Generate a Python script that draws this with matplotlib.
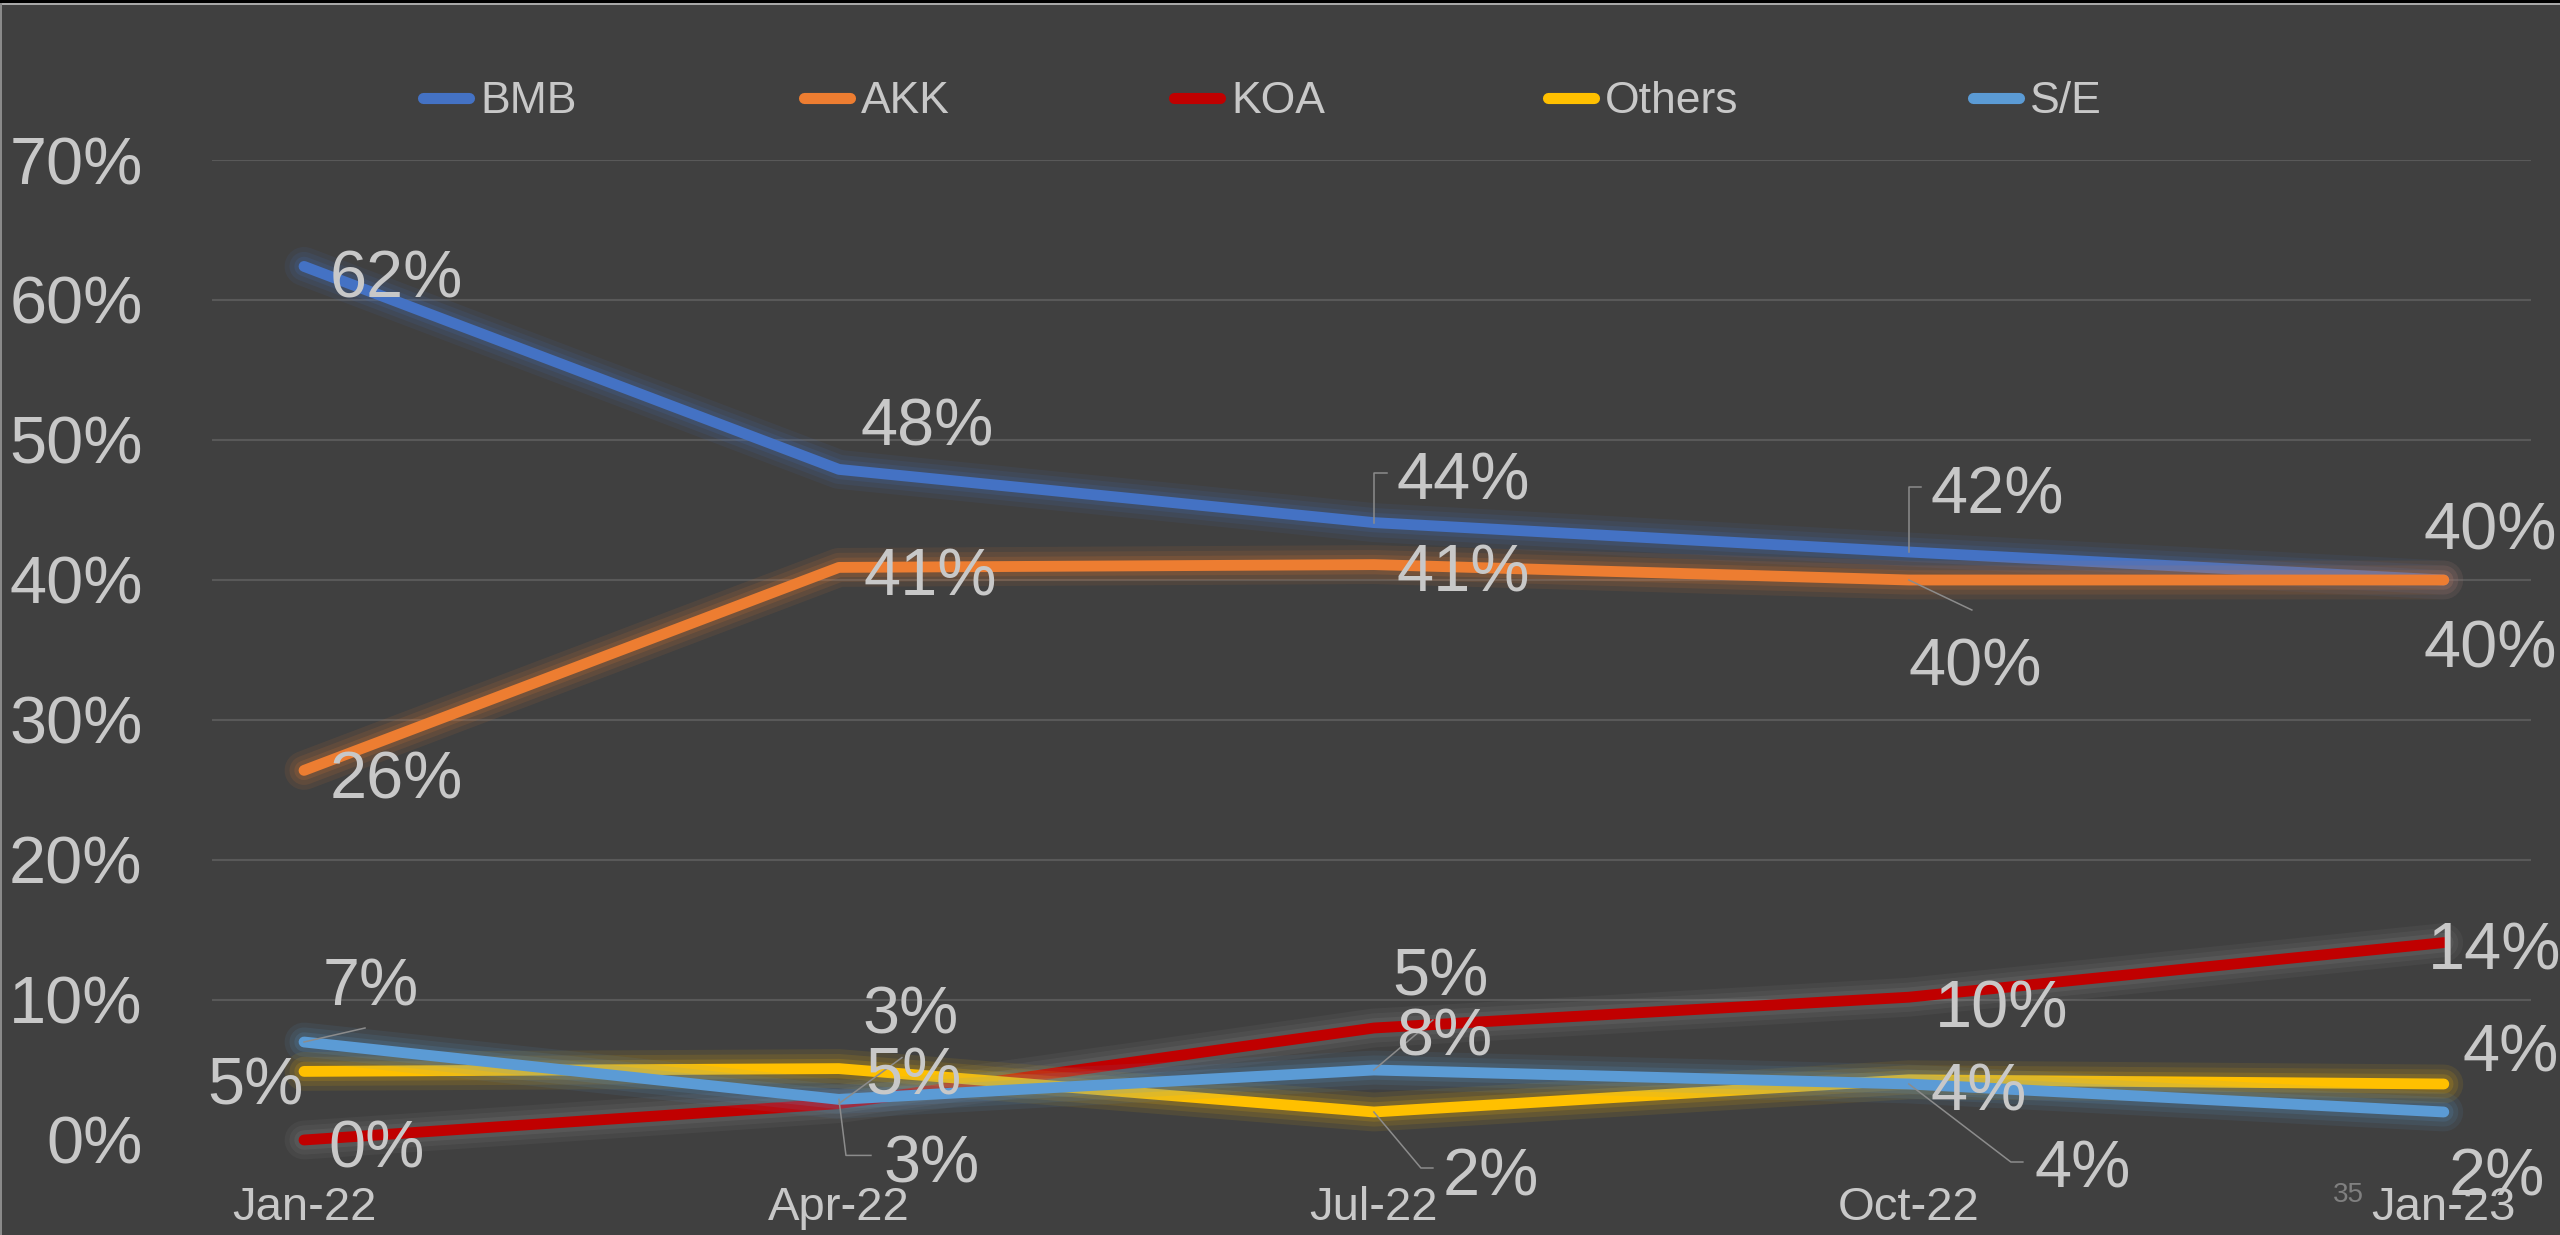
import matplotlib
matplotlib.use('Agg')
import matplotlib.pyplot as plt
from matplotlib import font_manager
from matplotlib.patches import Rectangle
from matplotlib.lines import Line2D
from matplotlib.transforms import IdentityTransform

# data
months = ['Jan-22', 'Apr-22', 'Jul-22', 'Oct-22', 'Jan-23']
series = ['BMB', 'AKK', 'KOA', 'Others', 'S/E']
bmb = [0.624, 0.479, 0.441, 0.420, 0.400]
akk = [0.264, 0.409, 0.411, 0.400, 0.400]
koa = [0.000, 0.026, 0.080, 0.102, 0.141]
others = [0.049, 0.051, 0.020, 0.043, 0.040]
se = [0.070, 0.029, 0.050, 0.040, 0.020]
yticks = [0, 0.1, 0.2, 0.3, 0.4, 0.5, 0.6, 0.7]

colors = ['#4472C4', '#ED7D31', '#C00000', '#FFC000', '#5B9BD5']
glows = ['#4472C4', '#ED7D31', '#8f8f8f', '#FFC000', '#5B9BD5']
BG = '#404040'
TXT = '#c8c8c8'

names = {f.name for f in font_manager.fontManager.ttflist}
FONT = 'Liberation Sans Narrow' if 'Liberation Sans Narrow' in names else 'Liberation Sans'
plt.rcParams['font.family'] = [FONT, 'DejaVu Sans']

W, H = 2560, 1235
fig = plt.figure(figsize=(W / 100, H / 100), dpi=100, facecolor=BG)
ax = fig.add_axes([212 / W, 1 - 1140 / H, (2531 - 212) / W, (1140 - 160) / H])
ax.set_facecolor('none')
ax.set_xlim(-0.172, 4.163)
ax.set_ylim(0, 0.7)
for s in ax.spines.values():
    s.set_visible(False)
ax.set_yticks(yticks)
ax.set_yticklabels(['%d%%' % round(t * 100) for t in yticks])
ax.set_xticks(range(len(months)))
ax.set_xticklabels(months)
ax.tick_params(axis='y', length=0, pad=50, labelsize=48, labelcolor=TXT)
ax.tick_params(axis='x', length=0, pad=33, labelsize=34, labelcolor=TXT)
ax.yaxis.grid(True, color='#595959', lw=1.5)
ax.get_ygridlines()[0].set_visible(False)
ax.set_axisbelow(True)

data = [bmb, akk, koa, others, se]
x = list(range(len(months)))
for vals, c, g in zip(data, colors, glows):
    for w, a in [(28, 0.09), (21, 0.11), (14, 0.15)]:
        ax.plot(x, vals, color=g, lw=w, alpha=a, solid_capstyle='round',
                solid_joinstyle='round', clip_on=False)
    ax.plot(x, vals, color=c, lw=7.8, solid_capstyle='round',
            solid_joinstyle='round', clip_on=False)

# label offsets in pixels (dx right, dy down to baseline)
label_pos = {
    'BMB': [(26, 31), (22, -24), (23, -23), (22, -39), (-20, -30)],
    'AKK': [(26, 28), (25, 28), (23, 27), (0, 105), (-20, 87)],
    'KOA': [(24, 27), (23, -70), (22, 27), (26, 30), (-16, 27)],
    'Others': [(0, 33), (26, 26), (69, 83), (22, 31), (19, -12)],
    'S/E': [(19, -37), (44, 83), (18, -75), (126, 103), (5, 83)],
}
for name, vals in zip(series, data):
    for i, v in enumerate(vals):
        dx, dy = label_pos[name][i]
        ha = 'right' if (name == 'Others' and i == 0) else 'left'
        ax.annotate('%d%%' % round(v * 100), xy=(i, v), xytext=(dx, -dy),
                    textcoords='offset pixels', ha=ha, va='baseline',
                    fontsize=48, color=TXT, annotation_clip=False, zorder=10)

# leader lines (pixel offsets from point, y down)
leaders = [
    ('S/E', 0, [(0, 0), (61, -14)]),
    ('KOA', 1, [(0, 0), (63, -46)]),
    ('S/E', 1, [(0, 0), (7, 56), (32, 56)]),
    ('BMB', 2, [(0, 0), (0, -50), (13, -50)]),
    ('S/E', 2, [(0, 0), (59, -50)]),
    ('Others', 2, [(0, 0), (47, 56), (59, 56)]),
    ('BMB', 3, [(0, 0), (0, -65), (12, -65)]),
    ('AKK', 3, [(0, 0), (63, 30)]),
    ('S/E', 3, [(0, 0), (102, 78), (114, 78)]),
]
for name, i, pts in leaders:
    v = data[series.index(name)][i]
    px, py = ax.transData.transform((i, v))
    xs = [px + p[0] for p in pts]
    ys = [py - p[1] for p in pts]
    ax.add_line(Line2D(xs, ys, transform=IdentityTransform(), color='#8c8c8c',
                       lw=1.1, clip_on=False, zorder=9))

# legend drawn across the top
leg_left = [417, 798, 1168, 1542, 1967]
for name, c, lx in zip(series, colors, leg_left):
    fig.add_artist(Line2D([(lx + 6) / W, (lx + 52) / W], [1 - 98 / H] * 2,
                          color=c, lw=8, solid_capstyle='round'))
    fig.text((lx + 63) / W, 1 - 113 / H, name, fontsize=32, color=TXT,
             ha='left', va='baseline')

fig.text(2333 / W, 1 - 1202 / H, '35', fontsize=20, color='#808080',
         ha='left', va='baseline')

# slide frame
fig.add_artist(Rectangle((0, 1 - 3 / H), 1, 3 / H, transform=fig.transFigure,
                         color='black', lw=0))
fig.add_artist(Rectangle((0, 1 - 5 / H), 1, 2 / H, transform=fig.transFigure,
                         color='#a8a8a8', lw=0))
fig.add_artist(Rectangle((0, 0), 1.5 / W, 1 - 3 / H, transform=fig.transFigure,
                         color='#8a8a8a', lw=0))

fig.savefig('out.png', dpi=100, facecolor=BG)
